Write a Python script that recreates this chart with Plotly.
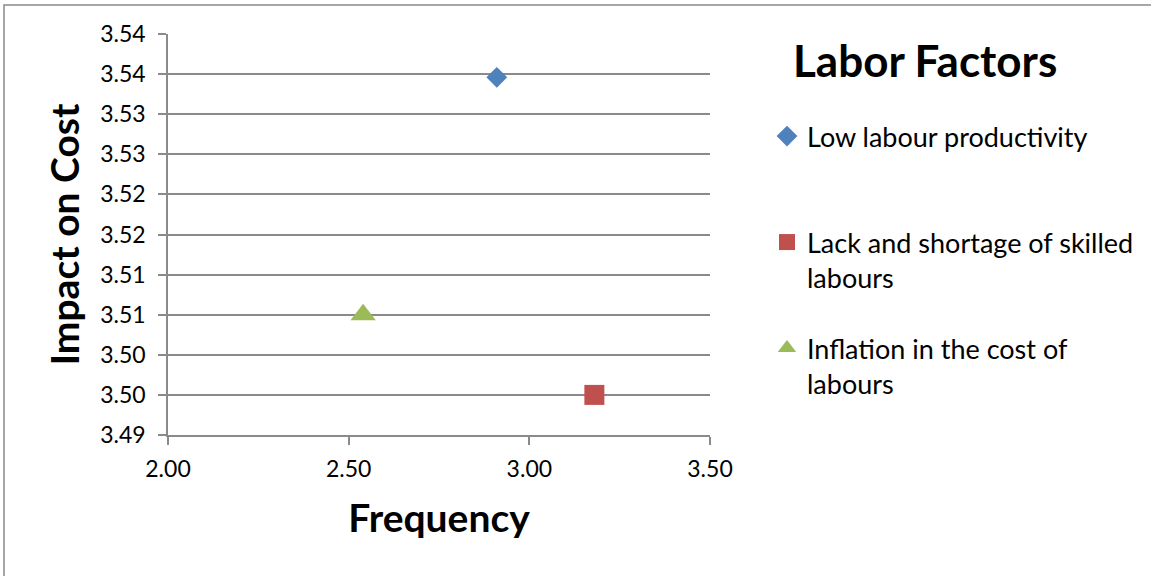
import plotly.graph_objects as go

# Labor factor survey results: mean frequency vs. mean impact on cost
factors = [
    "Low labour productivity",
    "Lack and shortage of skilled<br>labours",
    "Inflation in the cost of<br>labours",
]
frequency = [2.91, 3.18, 2.54]
impact = [3.5346, 3.495, 3.505]

symbols = ["diamond", "square", "triangle-up"]
colors = ["#4F81BD", "#C0504D", "#9BBB59"]
sizes = [16, 20, 22]

y_tickvals = [3.490, 3.495, 3.500, 3.505, 3.510, 3.515, 3.520, 3.525, 3.530, 3.535, 3.540]
y_ticktext = ["3.49", "3.50", "3.50", "3.51", "3.51", "3.52", "3.52", "3.53", "3.53", "3.54", "3.54"]
x_tickvals = [2.0, 2.5, 3.0, 3.5]
x_ticktext = ["2.00", "2.50", "3.00", "3.50"]

W, H = 1151, 576
L, R, T, B = 168, 441, 34, 141
PW, PH = W - L - R, H - T - B


def px_x(px):
    return (px - L) / PW


def px_y(py):
    return (H - B - py) / PH


FONT = "Lato"
GRID = "#8a8a8a"

fig = go.Figure()
legend_ids = ["legend", "legend2", "legend3"]
for name, x, y, sym, col, sz, lg in zip(factors, frequency, impact, symbols, colors, sizes, legend_ids):
    fig.add_trace(go.Scatter(
        x=[x], y=[y], mode="markers", name=name, legend=lg, showlegend=True,
        marker=dict(symbol=sym, color=col, size=sz, line=dict(width=0)),
    ))

legend_style = dict(
    xanchor="left", yanchor="top", bgcolor="rgba(0,0,0,0)",
    font=dict(family=FONT, size=27, color="#000000"),
    itemwidth=30, valign="top", visible=True,
)

fig.update_layout(
    width=W, height=H,
    margin=dict(l=L, r=R, t=T, b=B, autoexpand=False),
    paper_bgcolor="white", plot_bgcolor="white",
    showlegend=True,
    font=dict(family=FONT, color="#000000"),
    legend=dict(x=px_x(767), y=px_y(112), **legend_style),
    legend2=dict(x=px_x(767), y=px_y(218), **legend_style),
    legend3=dict(x=px_x(767), y=px_y(324), **legend_style),
    xaxis=dict(
        range=[2.0, 3.5], tickvals=x_tickvals, ticktext=x_ticktext,
        showgrid=False, zeroline=False, automargin=False,
        showline=True, linecolor=GRID, linewidth=1.5,
        ticks="outside", ticklen=8, tickwidth=1.5, tickcolor=GRID,
        tickfont=dict(family=FONT, size=23, color="#000000"),
        ticklabelstandoff=5,
        title=dict(text="<b>Frequency</b>", font=dict(family=FONT, size=39, color="#000000"), standoff=23),
    ),
    yaxis=dict(
        range=[3.49, 3.54], tickvals=y_tickvals, ticktext=y_ticktext,
        showgrid=True, gridcolor=GRID, gridwidth=1.5, zeroline=False, automargin=False,
        showline=True, linecolor=GRID, linewidth=1.5,
        ticks="outside", ticklen=8, tickwidth=1.5, tickcolor=GRID,
        tickfont=dict(family=FONT, size=23, color="#000000"),
        ticklabelstandoff=8,
        title=dict(text="<b>Impact on Cost</b>", font=dict(family=FONT, size=39, color="#000000"), standoff=9),
    ),
    annotations=[dict(
        text="<b>Labor Factors</b>", xref="paper", yref="paper",
        x=px_x(925), y=px_y(60), xanchor="center", yanchor="middle",
        showarrow=False, font=dict(family=FONT, size=44, color="#000000"),
    )],
    shapes=[dict(
        type="rect", xref="paper", yref="paper",
        x0=px_x(4), x1=px_x(1170), y0=px_y(600), y1=px_y(5),
        line=dict(color="#8a8a8a", width=1.5), fillcolor="rgba(0,0,0,0)", layer="below",
    )],
)

fig.write_html("out.html")
